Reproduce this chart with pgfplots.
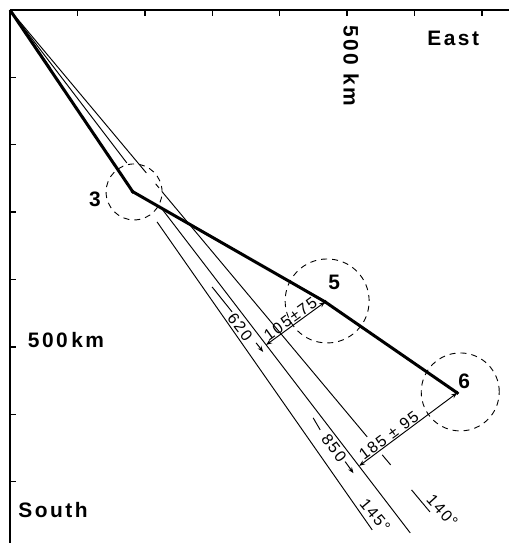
\documentclass[border=0pt]{standalone}
\usepackage{pgfplots}
\pgfplotsset{compat=1.18}
\usetikzlibrary{arrows.meta}
\usepackage{fontspec}
\setmainfont{Liberation Sans}[LetterSpace=10]
\newfontfamily\lblfont{Liberation Sans}[LetterSpace=12]
\begin{document}
\begin{tikzpicture}
\begin{axis}[
  scale only axis, width=499bp, height=533bp,
  xmin=0, xmax=740, ymin=0, ymax=791, y dir=reverse,
  axis x line*=top, axis y line*=left,
  axis line style={line width=1.4bp, black},
  xtick={100,200,...,700}, ytick={100,200,...,700},
  xticklabel=\empty, yticklabel=\empty,
  tick align=inside, major tick length=6bp,
  every tick/.style={line width=1.4bp, black},
  clip=false,
  thinl/.style={black, line width=0.95bp, no marks},
]
\coordinate (nw) at (axis cs:0,0);
\coordinate (se) at (axis cs:740,791);
% thick track
\addplot[black, line width=3bp, no marks, line join=round] coordinates {(0,0) (182,269.6) (467.4,433.2) (663.2,568.2)};
% 145 deg line
\addplot[thinl] coordinates {(0,0) (60,86)};
\addplot[thinl] coordinates {(218.1,314.5) (537.1,771.5)};
% reference line (slope 1.307)
\addplot[thinl] coordinates {(0,0) (173.3,227)};
\addplot[thinl] coordinates {(226.5,296.7) (593.5,776)};
% 140 deg line
\addplot[thinl] coordinates {(0,0) (202.2,241.8)};
\addplot[thinl] coordinates {(216,258) (221,264)};
\addplot[thinl] coordinates {(225.8,270) (529.7,633.5)};
\addplot[thinl] coordinates {(552,660.2) (564.5,675.1)};
\addplot[thinl] coordinates {(595.5,712.2) (622.7,744.8)};
% dimension segments
\addplot[thinl] coordinates {(299.7,411) (329.4,448.1)};
\addplot[thinl] coordinates {(449.6,605.3) (460,623.1)};
% perpendicular distances
\addplot[black, line width=0.95bp, no marks, {Stealth[length=6bp,width=4.5bp]}-{Stealth[length=6bp,width=4.5bp]}] coordinates {(379.8,497) (467.4,433.2)};
\addplot[black, line width=0.95bp, no marks, {Stealth[length=6bp,width=4.5bp]}-{Stealth[length=6bp,width=4.5bp]}] coordinates {(517.8,676.6) (663.2,568.2)};
% along-line arrows
\addplot[black, line width=1bp, no marks, -{Stealth[length=6bp,width=4.5bp]}] coordinates {(365,494) (375.4,507.4)};
\addplot[black, line width=1bp, no marks, -{Stealth[length=6bp,width=4.5bp]}] coordinates {(497,670.2) (509.4,687.4)};
% uncertainty circles
\addplot[only marks, mark=o, mark size=28bp, mark options={black, line width=0.9bp, dash pattern=on 6bp off 5bp}] coordinates {(184,270)};
\addplot[only marks, mark=o, mark size=42bp, mark options={black, line width=0.9bp, dash pattern=on 6bp off 5bp}] coordinates {(470.3,431.8)};
\addplot[only marks, mark=o, mark size=39bp, mark options={black, line width=0.9bp, dash pattern=on 6bp off 5bp}] coordinates {(667.7,566.8)};
% points
\addplot[only marks, mark=*, mark size=1.8bp, black] coordinates {(182,269.6) (467.4,433.2) (663.2,568.2)};
% labels
\node[font=\lblfont\bfseries\fontsize{21}{24}\selectfont] at (axis cs:657.3,41.5) {East};
\node[font=\lblfont\bfseries\fontsize{21}{24}\selectfont] at (axis cs:63.8,741.8) {South};
\node[font=\lblfont\bfseries\fontsize{21}{24}\selectfont] at (axis cs:83.1,489.6) {500\,km};
\node[font=\lblfont\bfseries\fontsize{21}{24}\selectfont, rotate=-90] at (axis cs:505.9,83.1) {500 km};
\node[font=\lblfont\bfseries\fontsize{21}{24}\selectfont] at (axis cs:126.1,280.4) {3};
\node[font=\lblfont\bfseries\fontsize{21}{24}\selectfont] at (axis cs:480.7,403.6) {5};
\node[font=\lblfont\bfseries\fontsize{21}{24}\selectfont] at (axis cs:673.6,550.4) {6};
\node[font=\fontsize{16}{18}\selectfont, rotate=-52.6] at (axis cs:341.2,470.3) {620};
\node[font=\fontsize{16}{18}\selectfont, rotate=-52.6] at (axis cs:480.7,649.9) {850};
\node[font=\fontsize{16}{18}\selectfont, rotate=36, anchor=south, inner sep=1bp] at (axis cs:421.7,466.5) {105±75};
\node[font=\fontsize{16}{18}\selectfont, rotate=36.7, anchor=south, inner sep=1bp] at (axis cs:567.8,639.3) {185 ± 95};
\node[font=\fontsize{16}{18}\selectfont, rotate=-50] at (axis cs:541.5,750.7) {145°};
\node[font=\fontsize{16}{18}\selectfont, rotate=-48] at (axis cs:641,743.3) {140°};
\end{axis}
\pgfresetboundingbox
\path (nw) ++(-10bp,10bp) rectangle (se);
\end{tikzpicture}
\end{document}
